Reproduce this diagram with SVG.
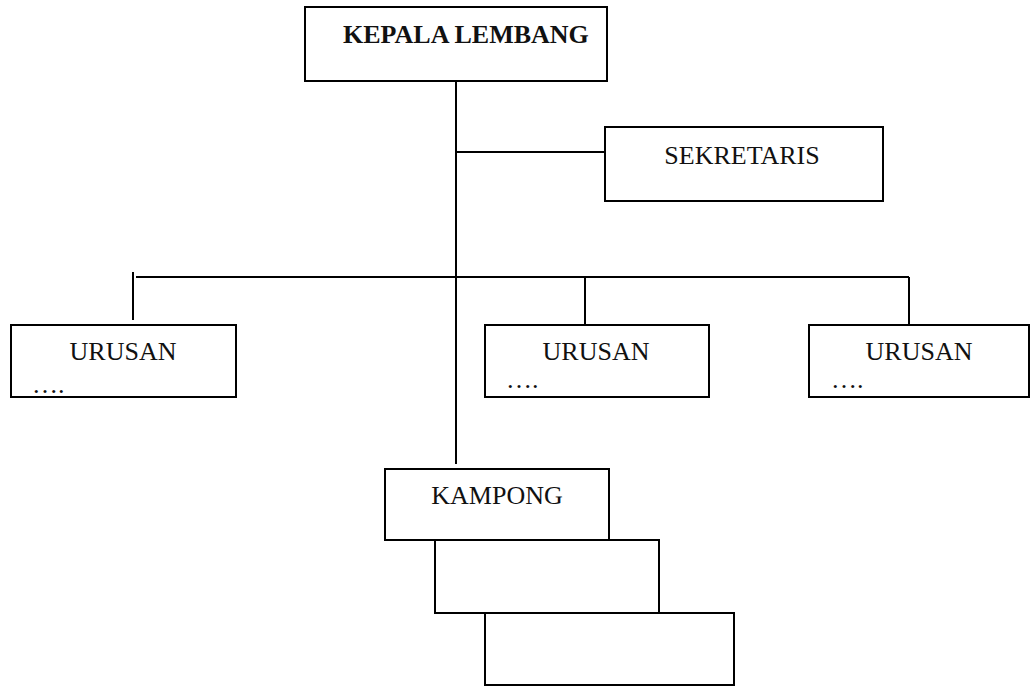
<svg xmlns="http://www.w3.org/2000/svg" width="1030" height="686" viewBox="0 0 1030 686">
<style>
.box{fill:#fff;stroke:#000;stroke-width:2}
.ln{stroke:#000;stroke-width:2;fill:none}
text{font-family:"Liberation Serif","Times New Roman",serif;font-size:26px;fill:#111}
.b{font-weight:bold}
</style>
<rect width="1030" height="686" fill="#fff"/>
<g id="connectors">
<line class="ln" x1="456" y1="81" x2="456" y2="464"/>
<line class="ln" x1="456" y1="152" x2="605" y2="152"/>
<line class="ln" x1="136" y1="277" x2="909" y2="277"/>
<line class="ln" x1="133" y1="272" x2="133" y2="320"/>
<line class="ln" x1="585" y1="277" x2="585" y2="325"/>
<line class="ln" x1="909" y1="277" x2="909" y2="325"/>
</g>
<g id="kepala">
<rect class="box" x="305" y="7" width="302" height="74"/>
<text class="b" x="343" y="43">KEPALA LEMBANG</text>
</g>
<g id="sekretaris">
<rect class="box" x="605" y="127" width="278" height="74"/>
<text x="742" y="164" text-anchor="middle">SEKRETARIS</text>
</g>
<g id="urusan1">
<rect class="box" x="11" y="325" width="225" height="72"/>
<text x="123" y="360" text-anchor="middle">URUSAN</text>
<text x="32" y="393">….</text>
</g>
<g id="urusan2">
<rect class="box" x="485" y="325" width="224" height="72"/>
<text x="596" y="360" text-anchor="middle">URUSAN</text>
<text x="506" y="388">….</text>
</g>
<g id="urusan3">
<rect class="box" x="809" y="325" width="220" height="72"/>
<text x="919" y="360" text-anchor="middle">URUSAN</text>
<text x="831" y="388">….</text>
</g>
<g id="kampong">
<rect class="box" x="385" y="469" width="224" height="71"/>
<text x="497" y="504" text-anchor="middle">KAMPONG</text>
</g>
<g id="kampong2">
<rect class="box" x="435" y="540" width="224" height="73"/>
</g>
<g id="kampong3">
<rect class="box" x="485" y="613" width="249" height="72"/>
</g>
</svg>
